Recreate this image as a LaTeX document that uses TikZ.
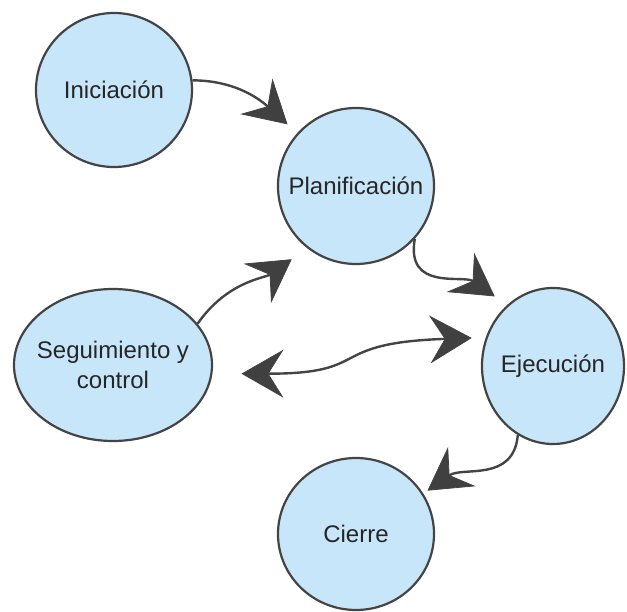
\documentclass[tikz,border=0pt]{standalone}
\usepackage{fontspec}
\setmainfont{Liberation Sans}
\usetikzlibrary{arrows.meta,shapes.geometric}
\definecolor{nodefill}{RGB}{199,230,250}
\definecolor{edgecol}{RGB}{68,68,68}
\definecolor{tipcol}{RGB}{64,64,64}
\begin{document}
\begin{tikzpicture}[x=1pt,y=-1pt,
  phase/.style={ellipse, draw=edgecol, line width=2.2pt, fill=nodefill, inner sep=0pt,
    font=\fontsize{24}{30}\selectfont, text={black!85}, align=center},
  bigtip/.tip={Stealth[length=42pt,width=48pt,inset=15pt,line width=0.8pt,fill=tipcol]},
  link/.style={draw=edgecol, line width=2.4pt, -bigtip},
  dlink/.style={draw=edgecol, line width=2.4pt, bigtip-bigtip}
]
\useasboundingbox (0,0) rectangle (627,612);

\node[phase, minimum width=156pt, minimum height=154pt] (ini) at (114,90) {Iniciación};
\node[phase, minimum width=156pt, minimum height=156pt, inner xsep=-16pt] (pla) at (356,186) {Planificación};
\node[phase, minimum width=198pt, minimum height=152pt, inner xsep=-14pt] (seg) at (113,365) {Seguimiento y\\control};
\node[phase, minimum width=142pt, minimum height=156pt, inner xsep=-8pt] (eje) at (553,366) {Ejecución};
\node[phase, minimum width=156pt, minimum height=152pt] (cie) at (356,534) {Cierre};

\draw[link, shorten >=13pt] (ini.7) to[out=0,in=138] (pla.138.5);
\draw[link, shorten >=15pt] (pla.-42.5) to[out=-100,in=145,looseness=1.2] (eje.127.5);
\draw[link, shorten >=19pt] (seg.26) to[out=55,in=-145] (pla.-128);
\draw[dlink, shorten <=29pt, shorten >=14pt] (seg.-5) to[out=0,in=182,looseness=1.5] (eje.157);
\draw[link, shorten >=5pt] (eje.-117.6) to[out=-95,in=35,looseness=1.1] (cie.31.8);
\end{tikzpicture}
\end{document}
